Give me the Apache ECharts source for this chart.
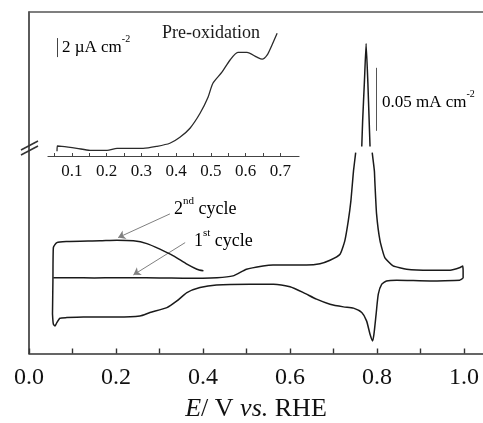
<!DOCTYPE html>
<html><head><meta charset="utf-8">
<script src="https://cdn.jsdelivr.net/npm/echarts@6/dist/echarts.min.js"></script>
<style>html,body{margin:0;padding:0;background:#fff}#c{width:483px;height:423px}</style>
</head><body><div id="c"></div>
<script>
// ---- axis ticks / labels ----
const mainTickValues = [0, 0.1, 0.2, 0.3, 0.4, 0.5, 0.6, 0.7, 0.8, 0.9, 1.0];
const mainLabelValues = [0, 0.2, 0.4, 0.6, 0.8, 1.0];
const insetTickValues = [0.05, 0.1, 0.15, 0.2, 0.25, 0.3, 0.35, 0.4, 0.45, 0.5, 0.55, 0.6, 0.65, 0.7];
const insetLabelValues = [0.1, 0.2, 0.3, 0.4, 0.5, 0.6, 0.7];

// ---- main CV (E / V vs RHE, j / uA cm^-2); '-' marks the axis break ----
const cycle1Anodic = [
  [0.056, 0.2], [0.10, 0.2], [0.15, 0.0], [0.20, 0.2], [0.239, 0.2], [0.30, 0.0], [0.354, -0.2],
  [0.432, 0.2], [0.469, 1.6], [0.500, 6.9], [0.538, 9.5], [0.561, 10.3], [0.600, 10.3], [0.638, 10.3],
  [0.669, 11.3], [0.692, 14.0], [0.715, 18.8], [0.726, 29.4], [0.734, 45.2], [0.740, 61.1],
  [0.744, 77.0], [0.746, 84.9], [0.751, 99.4], [0.758, '-'],
  [0.765, 104.2], [0.767, 124.6], [0.771, 155.0], [0.775, 186.0], [0.779, 155.0], [0.782, 124.6], [0.784, 104.2],
  [0.786, '-'],
  [0.789, 99.4], [0.794, 84.9], [0.795, 77.0], [0.799, 50.8], [0.807, 29.4], [0.818, 16.1],
  [0.837, 9.5], [0.868, 6.9], [0.922, 6.1], [0.968, 6.1], [0.991, 8.2], [0.997, 9.5],
  [0.998, 5.6], [0.998, 0.2], [0.991, -1.8]
];
const cycle1Cathodic = [
  [0.991, -1.8], [0.922, -2.4], [0.845, -1.8], [0.822, -2.4], [0.811, -5.0], [0.803, -12.9],
  [0.798, -28.8], [0.793, -44.7], [0.790, -50.0], [0.784, -44.7], [0.776, -34.1], [0.765, -27.5],
  [0.746, -24.0], [0.723, -23.0], [0.692, -20.9], [0.661, -16.9], [0.631, -11.7], [0.600, -7.1],
  [0.562, -5.0], [0.508, -5.0], [0.431, -5.6], [0.393, -7.7], [0.363, -11.7], [0.340, -18.3],
  [0.317, -23.6], [0.278, -27.5], [0.255, -30.2], [0.202, -31.0], [0.125, -31.0], [0.087, -31.5],
  [0.071, -32.0], [0.064, -35.5], [0.060, -38.1], [0.056, -36.7], [0.054, -28.6]
];
const cycle2Anodic = [
  [0.054, -28.6], [0.055, -2.4], [0.056, 24.0], [0.064, 28.0], [0.087, 28.8], [0.163, 29.4],
  [0.202, 29.9], [0.240, 29.4], [0.271, 27.2], [0.301, 22.8], [0.332, 17.5], [0.363, 10.9],
  [0.386, 6.9], [0.401, 5.6]
];

// ---- inset: pre-oxidation region (j / uA cm^-2) ----
const preOxidation = [
  [0.057, -0.1], [0.058, 0.45], [0.071, 0.42], [0.114, 0.21], [0.152, 0.0], [0.201, 0.0],
  [0.230, 0.21], [0.305, 0.21], [0.345, 0.42], [0.382, 0.74], [0.411, 1.37], [0.440, 2.32],
  [0.469, 3.89], [0.492, 5.58], [0.506, 7.05], [0.532, 8.21], [0.555, 9.47], [0.578, 10.3],
  [0.604, 10.3], [0.633, 9.79], [0.648, 9.58], [0.662, 10.0], [0.676, 11.05], [0.691, 12.3]
];

// ---- annotations (data coordinates) ----
const arrow2nd = [[0.324, 50.8], [0.205, 32.0]];
const arrow1st = [[0.359, 28.0], [0.240, 2.4]];
const mainScaleBar = [[0.799, 116.7], [0.799, 166.7]];   // 0.05 mA cm^-2
const insetScaleBar = [[0.058, 9.8], [0.058, 11.8]];     // 2 uA cm^-2

const FONT = "'Liberation Serif','DejaVu Serif',serif";
const INK = '#1a1a1a';
const AX = '#333';

const chart = echarts.init(document.getElementById('c'));
const lineSeries = (data, xi, sm) => ({
  type: 'line', data, xAxisIndex: xi, yAxisIndex: xi, showSymbol: false, symbol: 'none',
  connectNulls: false, smooth: sm, silent: true,
  lineStyle: { color: INK, width: 1.5 }
});
const supRich = (size) => ({
  a: { fontSize: size, fontFamily: FONT, color: INK, padding: [5, 0, 0, 0] },
  sup: { fontSize: Math.round(size * 0.6), fontFamily: FONT, color: INK, verticalAlign: 'top' }
});

chart.setOption({
  animation: false,
  backgroundColor: '#fff',
  grid: [
    { left: 29, right: 0, top: 12, bottom: 69.5, outerBoundsMode: 'none', containLabel: false },
    { left: 48, width: 251, top: 20, bottom: 267, outerBoundsMode: 'none', containLabel: false }
  ],
  xAxis: [
    {
      gridIndex: 0, type: 'value', min: 0, max: 1.0437, position: 'bottom',
      axisLine: { onZero: false, lineStyle: { color: AX, width: 1.6 } },
      axisTick: { inside: true, length: 5, customValues: mainTickValues, lineStyle: { color: AX, width: 1.4 } },
      axisLabel: { customValues: mainLabelValues, formatter: v => (+v).toFixed(1),
        fontSize: 24, fontFamily: FONT, color: '#111', margin: 12 },
      splitLine: { show: false },
      name: '{i|E}{n|/ V }{i|vs.}{n| RHE}', nameLocation: 'middle', nameGap: 43,
      nameTextStyle: { rich: {
        i: { fontSize: 26, fontFamily: FONT, fontStyle: 'italic', color: '#111' },
        n: { fontSize: 26, fontFamily: FONT, color: '#111' } } }
    },
    {
      gridIndex: 1, type: 'value', min: 0.031, max: 0.754, position: 'bottom',
      axisLine: { onZero: false, lineStyle: { color: '#444', width: 1.2 } },
      axisTick: { inside: true, length: 3, customValues: insetTickValues, lineStyle: { color: '#444', width: 1 } },
      axisLabel: { customValues: insetLabelValues, formatter: v => (+v).toFixed(1),
        fontSize: 17, fontFamily: FONT, color: '#111', margin: 7 },
      splitLine: { show: false }
    },
    {
      gridIndex: 0, type: 'value', min: 0, max: 1.0437, position: 'top',
      axisLine: { show: true, onZero: false, lineStyle: { color: '#555', width: 1.6 } },
      axisTick: { show: false }, axisLabel: { show: false }, splitLine: { show: false }
    }
  ],
  yAxis: [
    {
      gridIndex: 0, type: 'value', min: -60, max: 211,
      axisLine: { show: true, onZero: false, lineStyle: { color: AX, width: 1.6 } },
      axisTick: { show: false }, axisLabel: { show: false }, splitLine: { show: false }
    },
    {
      gridIndex: 1, type: 'value', min: -0.6, max: 13.7, show: false,
      axisLine: { onZero: false }, splitLine: { show: false }
    }
  ],
  series: [
    lineSeries(cycle1Anodic, 0, 0.15),
    lineSeries(cycle1Cathodic, 0, 0.2),
    lineSeries(cycle2Anodic, 0, 0.2),
    Object.assign(lineSeries(preOxidation, 1, 0.25), { lineStyle: { color: '#2a2a2a', width: 1.3 } }),
    {
      type: 'lines', coordinateSystem: 'cartesian2d', xAxisIndex: 0, yAxisIndex: 0, silent: true,
      symbol: ['none', 'arrow'], symbolSize: 7,
      lineStyle: { color: '#808080', width: 1, opacity: 1 },
      data: [{ coords: arrow2nd }, { coords: arrow1st }]
    },
    {
      type: 'lines', coordinateSystem: 'cartesian2d', xAxisIndex: 0, yAxisIndex: 0, silent: true,
      symbol: 'none', lineStyle: { color: '#555', width: 1, opacity: 1 },
      data: [{ coords: mainScaleBar }]
    },
    {
      type: 'lines', coordinateSystem: 'cartesian2d', xAxisIndex: 1, yAxisIndex: 1, silent: true,
      symbol: 'none', lineStyle: { color: '#444', width: 1, opacity: 1 },
      data: [{ coords: insetScaleBar }]
    }
  ],
  graphic: [
    { type: 'line', silent: true, shape: { x1: 21, y1: 150, x2: 38, y2: 141 }, style: { stroke: AX, lineWidth: 1.5 } },
    { type: 'line', silent: true, shape: { x1: 21, y1: 155, x2: 38, y2: 146 }, style: { stroke: AX, lineWidth: 1.5 } },
    { type: 'text', silent: true, x: 162, y: 33, style: { text: 'Pre-oxidation', font: '18px ' + FONT, fill: INK, verticalAlign: 'middle' } },
    { type: 'text', silent: true, x: 62, y: 45, style: { text: '{a|2 µA cm}{sup|-2}', rich: supRich(17), verticalAlign: 'middle' } },
    { type: 'text', silent: true, x: 382, y: 100, style: { text: '{a|0.05 mA cm}{sup|-2}', rich: supRich(17), verticalAlign: 'middle' } },
    { type: 'text', silent: true, x: 174, y: 207, style: { text: '{a|2}{sup|nd}{a| cycle}', rich: supRich(18), verticalAlign: 'middle' } },
    { type: 'text', silent: true, x: 194, y: 239, style: { text: '{a|1}{sup|st}{a| cycle}', rich: supRich(18), verticalAlign: 'middle' } }
  ]
});
</script>
</body></html>
